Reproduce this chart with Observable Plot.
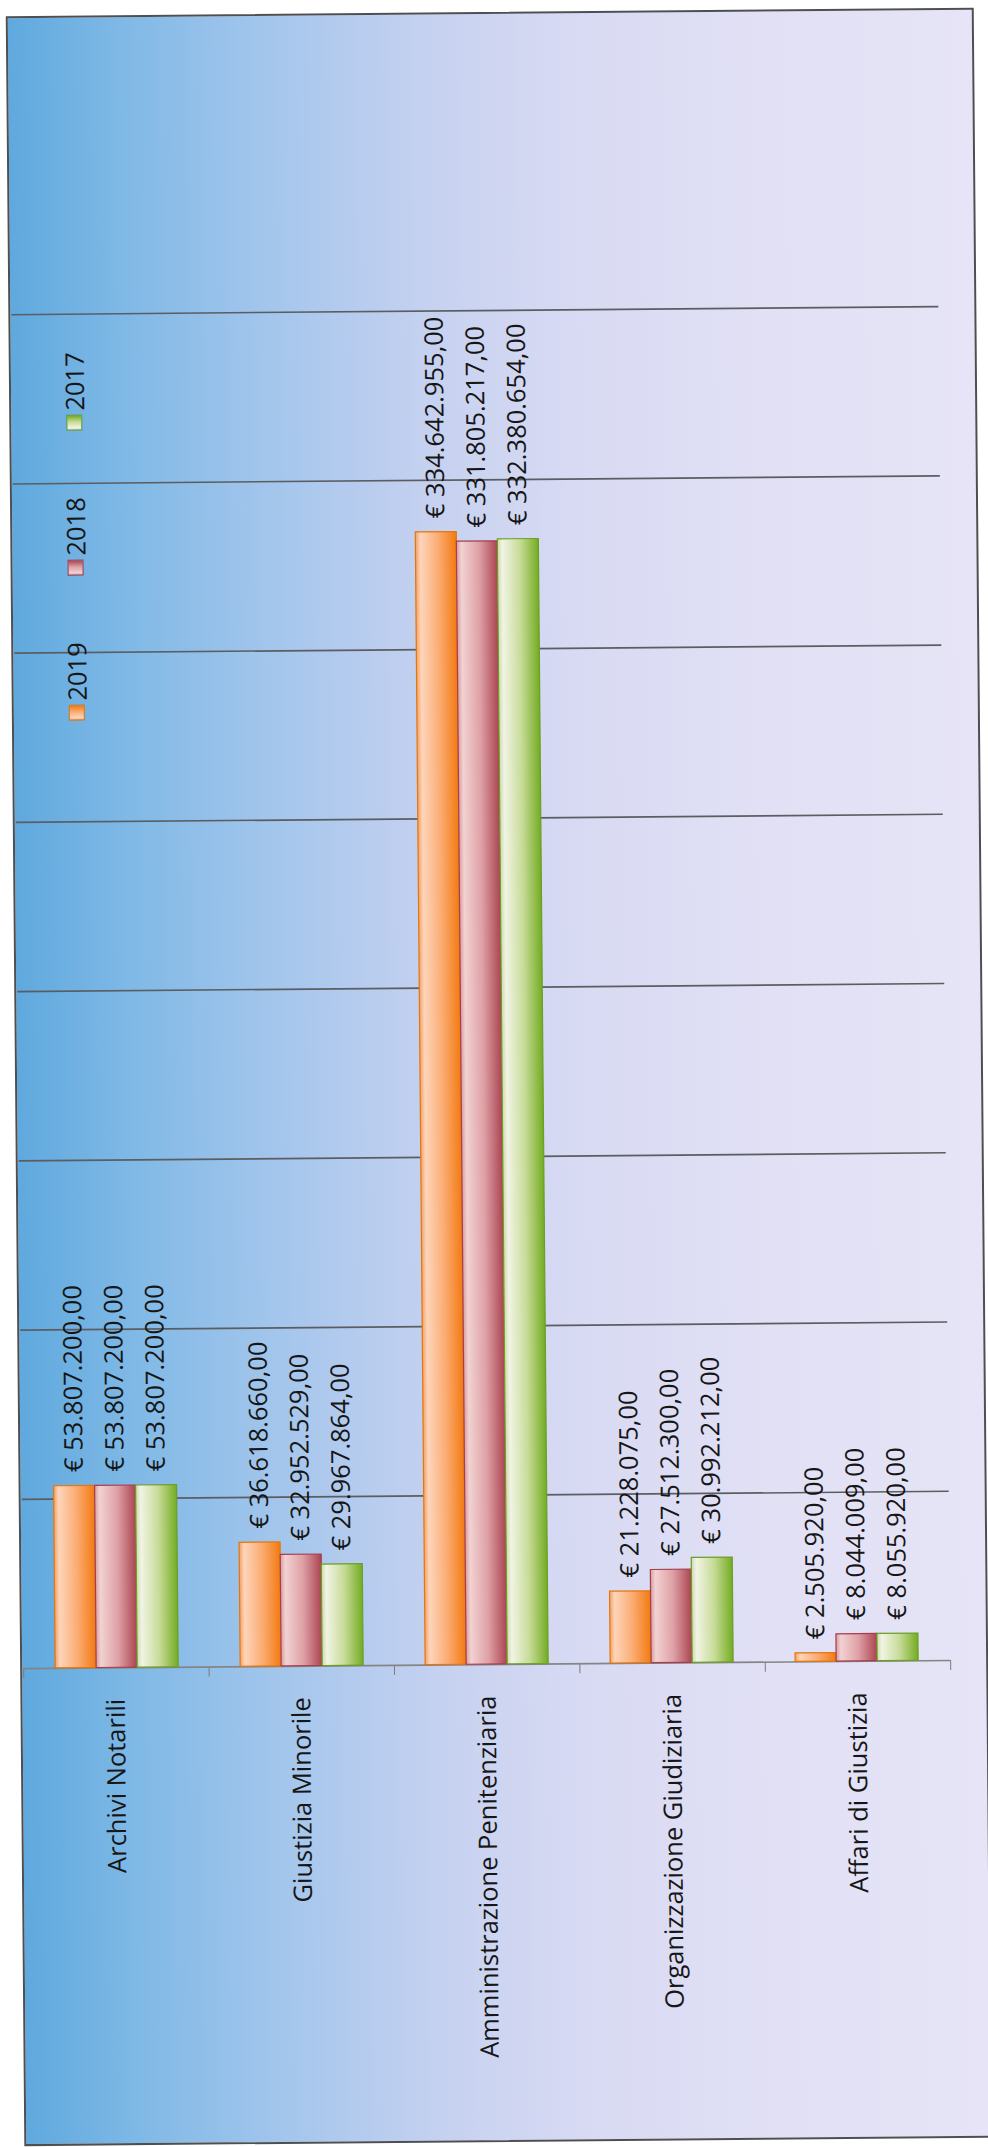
<!DOCTYPE html>
<html>
<head>
<meta charset="utf-8">
<script src="https://cdn.jsdelivr.net/npm/d3@7"></script>
<script src="https://cdn.jsdelivr.net/npm/@observablehq/plot@0.6"></script>
<style>
  html, body { margin: 0; padding: 0; background: #ffffff; }
  #wrap { position: relative; width: 988px; height: 2147px; transform: rotate(-0.5deg); transform-origin: 494px 1073px; }
  #box { position: absolute; left: 15px; top: 12px; width: 968px; height: 2130px; box-sizing: border-box;
         border: 2px solid #4d4f52;
         background: linear-gradient(to right, #5fa9de 0%, #80b9e6 12%, #a4c6ec 27%, #c5d1f0 43%, #d8daf3 58%, #e1e0f5 78%, #e6e4f6 100%); }
  .layer { position: absolute; left: 0; top: 0; }
  #legend { position: absolute; left: 65px; top: 717px; height: 30px; width: 400px; transform-origin: 0 0; transform: rotate(-90deg);
            display: flex; align-items: center; font-family: "Open Sans", sans-serif; font-size: 25.5px; color: #161616; }
  .item { width: 145px; display: flex; align-items: center; flex: none; }
  .sq { width: 16px; height: 16px; box-sizing: border-box; margin-right: 4px; flex: none; }
</style>
</head>
<body>
<div id="wrap">
  <div id="box"></div>
  <div id="back" class="layer"></div>
  <div id="front" class="layer"></div>
  <div id="legend"></div>
</div>
<script>
// ---- data ----
const categories = ["Archivi Notarili", "Giustizia Minorile", "Amministrazione Penitenziaria", "Organizzazione Giudiziaria", "Affari di Giustizia"];
const years = ["2019", "2018", "2017"];
const values2019 = [53807200, 36618660, 334642955, 21228075, 2505920];
const values2018 = [53807200, 32952529, 331805217, 27512300, 8044009];
const values2017 = [53807200, 29967864, 332380654, 30992212, 8055920];
const gridValues = [50000000, 100000000, 150000000, 200000000, 250000000, 300000000, 350000000, 400000000];

// ---- styles ----
const seriesStroke = {"2019": "#e5760c", "2018": "#a63e4d", "2017": "#6b9f27"};
const seriesStops = {
  "2019": [["0%", "#f4a064"], ["12%", "#fdd5ba"], ["55%", "#fbac74"], ["100%", "#f37a10"]],
  "2018": [["0%", "#d99ba0"], ["12%", "#f2d2d2"], ["55%", "#dea0a5"], ["100%", "#ab4452"]],
  "2017": [["0%", "#cbd9a8"], ["12%", "#f1f4e4"], ["55%", "#c7db98"], ["100%", "#74ac22"]]
};

const byYear = {"2019": values2019, "2018": values2018, "2017": values2017};
const rows = categories.flatMap((c, i) => years.map(y => ({category: c, year: y, value: byYear[y][i]})));

const itLocale = d3.formatLocale({decimal: ",", thousands: ".", grouping: [3], currency: ["€ ", ""]});
const fmt = itLocale.format("$,.2f");

const W = 988, H = 2147, ML = 18, MR = 43, MT = 310, MB = 483;
const FONT = "'Open Sans', sans-serif";
const FS = 25.5;
const TEXT = "#161616";

// background layer: gridlines, axis, category labels
const back = Plot.plot({
  width: W, height: H, marginLeft: ML, marginRight: MR, marginTop: MT, marginBottom: MB,
  style: {background: "transparent", color: "#7c7c7c", fontFamily: FONT, overflow: "visible"},
  x: {domain: [0, categories.length], ticks: categories.length, tickSize: 10, tickFormat: () => "", label: null},
  y: {domain: [0, 400000000], axis: null},
  marks: [
    Plot.ruleY(gridValues, {stroke: "#5a5e62", strokeWidth: 1.6}),
    Plot.ruleY([0], {stroke: "#858585", strokeWidth: 1.6}),
    Plot.text(categories, {x: (d, i) => i + 0.5, frameAnchor: "bottom", text: d => d, rotate: -90,
      textAnchor: "end", lineAnchor: "middle", dy: 31, fill: TEXT, fontSize: FS})
  ]
});
document.getElementById("back").appendChild(back);

// front layer: grouped bars and value labels
const front = Plot.plot({
  width: W, height: H, marginLeft: ML, marginRight: MR, marginTop: MT, marginBottom: MB,
  style: {background: "transparent", fontFamily: FONT, overflow: "visible"},
  facet: {data: rows, x: "category"},
  fx: {domain: categories, paddingInner: 0.336, paddingOuter: 0.168, axis: null, label: null},
  x: {domain: years, padding: 0, axis: null},
  y: {domain: [0, 400000000], axis: null},
  color: {type: "identity"},
  marks: [
    Plot.barY(rows, {x: "year", y: "value", fill: d => `url(#grad${d.year})`, stroke: d => seriesStroke[d.year], strokeWidth: 1.2}),
    Plot.text(rows, {x: "year", y: "value", text: d => fmt(d.value), rotate: -90, textAnchor: "start",
      lineAnchor: "middle", dy: -14, fill: TEXT, fontSize: FS})
  ]
});
const defs = d3.select(front).insert("defs", ":first-child");
years.forEach(y => {
  const lg = defs.append("linearGradient").attr("id", "grad" + y).attr("x1", 0).attr("x2", 1).attr("y1", 0).attr("y2", 0);
  seriesStops[y].forEach(([o, c]) => lg.append("stop").attr("offset", o).attr("stop-color", c));
});
document.getElementById("front").appendChild(front);

// legend (rotated like the chart)
const legend = document.getElementById("legend");
years.forEach(y => {
  const item = document.createElement("div");
  item.className = "item";
  const sq = document.createElement("span");
  sq.className = "sq";
  sq.style.background = `linear-gradient(to right, ${seriesStops[y].map(([o, c]) => c + " " + o).join(", ")})`;
  sq.style.border = `1.5px solid ${seriesStroke[y]}`;
  const t = document.createElement("span");
  t.textContent = y;
  item.appendChild(sq);
  item.appendChild(t);
  legend.appendChild(item);
});
</script>
</body>
</html>
